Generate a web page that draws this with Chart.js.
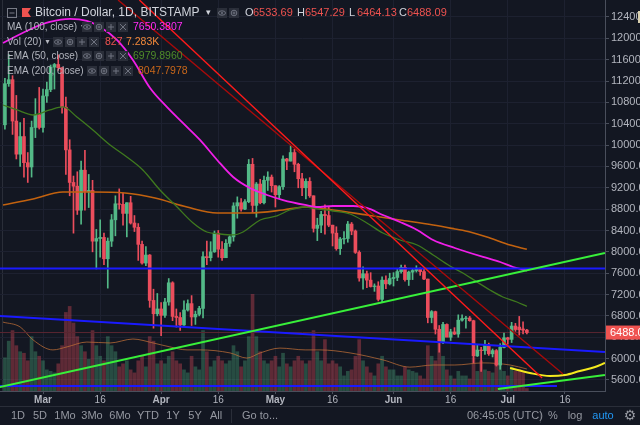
<!DOCTYPE html>
<html>
<head>
<meta charset="utf-8">
<script src="https://cdn.jsdelivr.net/npm/chart.js@4.4.0/dist/chart.umd.min.js"></script>
<style>
  html, body { margin: 0; padding: 0; background: #131722; }
  canvas { display: block; }
</style>
</head>
<body>
<canvas id="btc" width="640" height="425" style="width:640px;height:425px"></canvas>
<script>
// BTC/USD daily candles, Bitstamp. Days are counted from 1 Mar 2018, first candle 19 Feb.
let firstDay = -10;

let opens = [
  10380, 11150, 11225, 10450, 9830, 10160, 9670, 9590, 10330, 10570,
  10330, 10920, 11040, 11460, 11510, 11450, 10710, 9910, 9300, 9230,
  8780, 9530, 9130, 9150, 8200, 8250, 8270, 7870, 8200, 8600,
  8900, 8890, 8720, 8920, 8540, 8460, 8140, 7790, 7940, 7090, 6840,
  6930, 6810, 7060, 7420, 6790, 6770, 6630, 6910, 7030, 6780,
  6830, 6940, 7910, 7890, 8000, 8350, 8050, 7890, 8160, 8280,
  8860, 8920, 8800, 8940, 9640, 8870, 9270, 8920, 9340, 9400,
  9240, 9070, 9220, 9740, 9700, 9860, 9640, 9370, 9200, 9320,
  9050, 8440, 8500, 8700, 8680, 8500, 8350, 8060, 8240, 8250,
  8520, 8390, 7990, 7510, 7590, 7470, 7350, 7360, 7110, 7470, 7400,
  7500, 7520, 7630, 7710, 7480, 7620, 7650, 7690, 7630, 7490,
  6770, 6880, 6550, 6300, 6640, 6400, 6500, 6460, 6720, 6750,
  6760, 6710, 6050, 6160, 6150, 6250, 6090, 6150, 5880, 6210,
  6390, 6360, 6610, 6590, 6555, 6533.69
];
let highs = [
  11250, 11700, 11300, 10930, 10420, 10500, 9860, 10450, 10870, 11080,
  11050, 11180, 11500, 11530, 11690, 11450, 10900, 10100, 9420, 9500,
  9700, 9900, 9450, 9340, 8420, 8600, 8350, 8260, 8700, 9050,
  9180, 9100, 8920, 9040, 8680, 8530, 8200, 8100, 7950, 7300, 7220,
  7050, 7130, 7500, 7440, 6930, 6860, 7080, 7100, 7180, 6890,
  6980, 8000, 8200, 8190, 8390, 8400, 8190, 8230, 8300, 8920,
  9030, 9000, 8980, 9730, 9750, 9300, 9360, 9420, 9500, 9440,
  9240, 9240, 9800, 9750, 9990, 9920, 9660, 9470, 9370, 9390,
  9050, 8630, 8760, 8880, 8840, 8500, 8470, 8270, 8380, 8570,
  8550, 8410, 8020, 7720, 7640, 7610, 7400, 7440, 7530, 7550, 7600,
  7610, 7690, 7750, 7750, 7640, 7680, 7740, 7700, 7690, 7490,
  6900, 6890, 6620, 6680, 6650, 6550, 6580, 6820, 6820, 6790,
  6790, 6720, 6250, 6210, 6340, 6290, 6180, 6170, 6280, 6480,
  6400, 6680, 6660, 6790, 6690, 6547.29
];
let lows = [
  10300, 11100, 10200, 9740, 9600, 9400, 9300, 9400, 10140, 10300,
  10240, 10800, 11000, 11050, 11400, 10600, 9450, 9050, 8350, 8700,
  8520, 8780, 8830, 8000, 7680, 7900, 7760, 7320, 8100, 8300,
  8800, 8500, 8280, 8520, 8380, 7840, 7770, 7740, 6960, 6570, 6800,
  6430, 6770, 7000, 6710, 6590, 6530, 6620, 6890, 6620, 6640,
  6800, 6760, 7760, 7830, 7990, 7900, 7840, 7890, 8100, 8200,
  8630, 8760, 8790, 8920, 8740, 8650, 8900, 8900, 9150, 9120,
  8840, 9000, 9170, 9540, 9700, 9500, 9200, 9050, 8990, 9020,
  8370, 8210, 8360, 8330, 8470, 8110, 8030, 7950, 8150, 8180,
  8320, 7970, 7450, 7300, 7330, 7340, 7260, 7080, 7060, 7310, 7380,
  7360, 7460, 7600, 7450, 7370, 7480, 7620, 7560, 7480, 6670,
  6670, 6460, 6120, 6280, 6420, 6340, 6450, 6400, 6700, 6570,
  6700, 5920, 6040, 5760, 6080, 6060, 6030, 5860, 5800, 6200,
  6270, 6300, 6510, 6440, 6460, 6464.13
];
let closes = [
  11150, 11225, 10450, 9830, 10160, 9670, 9590, 10330, 10570, 10330,
  10920, 11040, 11460, 11510, 11450, 10710, 9910, 9300, 9230, 8780,
  9530, 9130, 9150, 8200, 8250, 8270, 7870, 8200, 8600, 8900,
  8890, 8720, 8920, 8540, 8460, 8140, 7790, 7940, 7090, 6840, 6930,
  6810, 7060, 7420, 6790, 6770, 6630, 6910, 7030, 6780, 6830,
  6940, 7910, 7890, 8000, 8350, 8050, 7890, 8160, 8280, 8860,
  8920, 8800, 8940, 9640, 8870, 9270, 8920, 9340, 9400, 9240,
  9070, 9220, 9740, 9700, 9860, 9640, 9370, 9200, 9320, 9050,
  8440, 8500, 8700, 8680, 8500, 8350, 8060, 8240, 8250, 8520,
  8390, 7990, 7510, 7590, 7470, 7350, 7360, 7110, 7470, 7400, 7500,
  7520, 7630, 7710, 7480, 7620, 7650, 7690, 7630, 7490, 6770,
  6880, 6550, 6300, 6640, 6400, 6500, 6460, 6720, 6750, 6760,
  6710, 6050, 6160, 6150, 6250, 6090, 6150, 5880, 6210, 6390,
  6360, 6610, 6545, 6540, 6533.69, 6488.09
];
// thousand BTC
let volumes = [
  11, 16.5, 20, 15, 13, 12.5, 10, 18, 13, 11.5,
  10, 7, 6.5, 6, 9, 15, 26, 28, 22.5, 18,
  15, 13, 10.5, 20, 15, 11.5, 10, 18, 15, 13,
  8, 9, 10, 7, 6, 10, 11.5, 8, 18, 16.5, 9,
  10, 9, 11.5, 13, 10, 9, 7, 6, 11.5, 8,
  7, 20, 13, 8, 10, 11.5, 10, 9, 10, 15,
  13, 8, 10, 18, 32, 18, 13, 10, 9, 10,
  11.5, 8, 12.5, 9, 8, 10, 11.5, 10, 9, 10,
  20, 13, 10, 17, 9, 10, 9, 8, 5, 6.5,
  7, 11.5, 17, 10, 8, 6, 5, 9, 11.5, 8, 7,
  7, 5, 5, 8, 7, 6.5, 6, 5, 4, 15,
  11.5, 10, 16, 11.5, 7, 5, 4, 6.5, 5, 5,
  4, 11, 6.5, 10, 7, 6.5, 6, 9, 10, 6.5,
  5, 8, 6.5, 7, 6.5, 0.83
];

// indicator lines
let ma100Days = [-10.5, -2.6, 1.8, 7.1, 11.5, 15, 19.4, 23.6, 28.1, 32.5, 36.7, 41.2, 45.7, 49.9, 54.3, 58.8, 63, 68.8, 71.9, 76.1, 81.4, 85, 89.2, 93.7, 98.2, 102.4, 108.1, 115.5, 120, 123.4, 127];
let ma100Values = [11913, 12194, 12306, 12363, 12325, 12213, 11969, 11594, 11070, 10714, 10414, 10096, 9721, 9402, 9196, 9065, 8971, 8878, 8840, 8859, 8859, 8822, 8690, 8559, 8410, 8222, 8072, 7904, 7810, 7716, 7650];

let ema50Days = [-10.5, -6.8, -2.6, 1.8, 5.2, 8.9, 13.1, 17.6, 22, 26.2, 30.7, 35.2, 39.4, 43, 46.5, 49.9, 52.5, 57, 61.4, 64.8, 68.8, 71.9, 76.1, 80.6, 85, 89.2, 93.7, 98.2, 102.4, 106.8, 110.2, 113.9, 117.3, 120.7, 124.4, 127];
let ema50Values = [10751, 10658, 10564, 10658, 10714, 10527, 10283, 10002, 9777, 9534, 9159, 8840, 8541, 8372, 8334, 8316, 8372, 8597, 8672, 8784, 8840, 8803, 8765, 8709, 8541, 8353, 8222, 8128, 7941, 7735, 7604, 7435, 7285, 7154, 7060, 6980];

let ema200Days = [-10.5, -2.6, 5.2, 13.1, 21.5, 29.4, 37.8, 45.7, 54.3, 63, 68.8, 76.1, 85, 93.7, 102.4, 108.1, 112.1, 117.3, 122.6, 127];
let ema200Values = [8878, 8990, 9121, 9121, 9103, 9009, 8840, 8728, 8728, 8784, 8840, 8784, 8690, 8597, 8503, 8428, 8372, 8260, 8128, 8048];

let volMaDays = [-10.5, -6, -2.6, 2.6, 6.3, 11.5, 17.6, 23.6, 28.9, 33.3, 37.8, 41.2, 49.1, 53.5, 57, 62.2, 68.8, 72.7, 80.6, 89.2, 96.3, 102.4, 108.1, 115.5, 122.6, 127];
let volMaValues = [22.8, 21.2, 16.9, 13.6, 14.6, 16.2, 15.9, 17.2, 15.9, 14.6, 13.6, 13.6, 12.6, 10.9, 12.6, 14.2, 13.6, 13.6, 12.6, 10.3, 7.9, 8.6, 8.6, 9.3, 8.6, 7.283];

// hand drawn lines
let greenLongDays = [-11.3, 147.5];
let greenLongPrices = [5468, 7978];
let greenShortDays = [119.4, 147.5];
let greenShortPrices = [5430, 5693];
let blueFlatDays = [-11.3, 147.5];
let blueFlatPrices = [7690, 7690];
let blueSlopeDays = [-11.3, 147.5];
let blueSlopePrices = [6798, 6124];
let blueLowDays = [-11.3, 134.9];
let blueLowPrices = [5487, 5487];
let redDays = [25.3, 131.0];
let redPrices = [12718, 5637];
let darkRedDays = [19.7, 136.5];
let darkRedPrices = [12718, 5712];
let yellowDays = [122.6, 127.8, 133.1, 137, 140.9, 144.9, 147.5];
let yellowPrices = [5824, 5730, 5674, 5693, 5768, 5843, 5920];

// axes
let tickDays = [0, 15, 31, 46, 61, 76, 92, 107, 122, 137];
let tickNames = ["Mar", "16", "Apr", "16", "May", "16", "Jun", "16", "Jul", "16"];
let priceTicks = [5600, 6000, 6400, 6800, 7200, 7600, 8000, 8400, 8800, 9200, 9600, 10000, 10400, 10800, 11200, 11600, 12000, 12400];

let dayMin = -11.29, dayMax = 147.51;
let priceMin = 5393, priceMax = 12718;
let volMax = 129.4;

// ---------------------------------------------------------------

let upColor = "#53b987";
let downColor = "#eb4d5c";
let gridColor = "#1d2130";
let axisColor = "#4a4f5c";
let textColor = "#b2b5be";

function pts(xs, ys) {
  return xs.map(function (x, i) { return { x: x, y: ys[i] }; });
}
function isUp(i) {
  return closes[i] >= opens[i];
}

let candleWicks = opens.map(function (o, i) { return { x: firstDay + i, y: [lows[i], highs[i]] }; });
let candleBodies = opens.map(function (o, i) { return { x: firstDay + i, y: [o, closes[i]] }; });
let volumeBars = volumes.map(function (v, i) { return { x: firstDay + i, y: v }; });
let lastClose = closes[closes.length - 1];

function lineSet(data, color, width, order, smooth) {
  return {
    type: "line",
    data: data,
    borderColor: color,
    borderWidth: width,
    pointRadius: 0,
    fill: false,
    order: order,
    cubicInterpolationMode: smooth ? "monotone" : "default",
    tension: 0,
  };
}

Chart.defaults.font.family = '"Liberation Sans", Arial, sans-serif';

function drawIconBox(c, x, y, kind) {
  c.fillStyle = "#2a2e39";
  c.fillRect(x, y - 5, 10, 10);
  c.strokeStyle = "#6f7380";
  c.lineWidth = 1;
  c.beginPath();
  let cx = x + 5, cy = y;
  if (kind === "eye") {
    c.ellipse(cx, cy, 3.5, 2.2, 0, 0, Math.PI * 2);
    c.stroke();
    c.beginPath();
    c.arc(cx, cy, 1, 0, Math.PI * 2);
    c.fillStyle = "#6f7380";
    c.fill();
  } else if (kind === "gear") {
    c.arc(cx, cy, 2.8, 0, Math.PI * 2);
    c.stroke();
    c.beginPath();
    c.arc(cx, cy, 1, 0, Math.PI * 2);
    c.stroke();
  } else if (kind === "plus") {
    c.moveTo(cx - 3, cy); c.lineTo(cx + 3, cy);
    c.moveTo(cx, cy - 3); c.lineTo(cx, cy + 3);
    c.stroke();
  } else {
    c.moveTo(cx - 3, cy - 3); c.lineTo(cx + 3, cy + 3);
    c.moveTo(cx + 3, cy - 3); c.lineTo(cx - 3, cy + 3);
    c.stroke();
  }
}

let overlayPlugin = {
  id: "overlay",
  beforeDraw(chart) {
    let c = chart.ctx;
    c.save();
    c.fillStyle = "#131722";
    c.fillRect(0, 0, chart.width, chart.height);
    c.strokeStyle = "#2a2e39";
    c.beginPath(); c.moveTo(2.5, 0); c.lineTo(2.5, 391); c.stroke();
    c.restore();
  },
  afterDraw(chart) {
    let c = chart.ctx;
    let yScale = chart.scales.y;
    c.save();
    c.textBaseline = "middle";
    c.textAlign = "left";

    // last price tag on the axis
    let py = yScale.getPixelForValue(lastClose);
    c.fillStyle = "#ef5350";
    c.fillRect(606, py - 7, 34, 14);
    c.fillStyle = "#ffffff";
    c.font = '11px "Liberation Sans", Arial';
    c.fillText(lastClose.toFixed(2), 610, py + 0.5);
    c.fillStyle = "#d8cfae";
    c.fillRect(638, 11, 2, 12);

    // header row
    c.strokeStyle = "#787b86";
    c.lineWidth = 1;
    c.strokeRect(7.5, 8.5, 9, 9);
    c.beginPath(); c.moveTo(9.5, 13); c.lineTo(14.5, 13); c.stroke();
    c.fillStyle = "#ef5350";
    c.beginPath();
    c.moveTo(22, 8); c.lineTo(31, 8); c.lineTo(28, 12.5); c.lineTo(31, 17); c.lineTo(22, 17);
    c.closePath(); c.fill();
    c.fillStyle = "#d1d4dc";
    c.font = '12px "Liberation Sans", Arial';
    c.fillText("Bitcoin / Dollar, 1D, BITSTAMP", 35, 13);
    c.font = '9px "DejaVu Sans"';
    c.fillText("\u25BE", 206, 13);
    drawIconBox(c, 217, 13, "eye");
    drawIconBox(c, 229, 13, "gear");
    let ohlc = [["O", 245, "6533.69"], ["H", 297, "6547.29"], ["L", 349, "6464.13"], ["C", 399, "6488.09"]];
    c.font = '11px "Liberation Sans", Arial';
    ohlc.forEach(function (o) {
      c.fillStyle = "#d1d4dc";
      c.fillText(o[0], o[1], 13);
      c.fillStyle = "#ef5350";
      c.fillText(o[2], o[1] + 8, 13);
    });

    // indicator legend rows
    let rows = [
      { y: 27, name: "MA (100, close)", icons: 82, vals: [["7650.3807", 133, "#ff2cf5"]] },
      { y: 42, name: "Vol (20)", icons: 53, vals: [["827", 105, "#ef5350"], ["7.283K", 126, "#f0883a"]] },
      { y: 56, name: "EMA (50, close)", icons: 82, vals: [["6979.8960", 133, "#4f8c2a"]] },
      { y: 71, name: "EMA (200, close)", icons: 87, vals: [["8047.7978", 138, "#c8671b"]] },
    ];
    rows.forEach(function (r) {
      c.font = '10px "Liberation Sans", Arial';
      c.fillStyle = textColor;
      c.fillText(r.name, 7, r.y);
      let w = c.measureText(r.name).width;
      c.font = '8px "DejaVu Sans"';
      c.fillText("\u25BE", 7 + w + 4, r.y);
      ["eye", "gear", "plus", "x"].forEach(function (k, j) {
        drawIconBox(c, r.icons + j * 12, r.y, k);
      });
      c.font = '10.5px "Liberation Sans", Arial';
      r.vals.forEach(function (v) {
        c.fillStyle = v[2];
        c.fillText(v[0], v[1], r.y);
      });
    });

    // bottom toolbar
    c.strokeStyle = "#2a2e39";
    c.beginPath(); c.moveTo(0, 406.5); c.lineTo(640, 406.5); c.stroke();
    c.beginPath();
    c.moveTo(231.5, 409); c.lineTo(231.5, 423);
    c.moveTo(540.5, 409); c.lineTo(540.5, 423);
    c.stroke();
    c.font = '11px "Liberation Sans", Arial';
    c.textAlign = "center";
    c.fillStyle = "#9598a1";
    [["1D", 18], ["5D", 40], ["1Mo", 65], ["3Mo", 92], ["6Mo", 120], ["YTD", 148], ["1Y", 173], ["5Y", 195], ["All", 216], ["%", 553], ["log", 575]].forEach(function (t) {
      c.fillText(t[0], t[1], 416);
    });
    c.textAlign = "left";
    c.fillText("Go to...", 242, 416);
    c.fillText("06:45:05 (UTC)", 467, 416);
    c.fillStyle = "#2196f3";
    c.textAlign = "center";
    c.fillText("auto", 603, 416);
    c.fillStyle = "#9598a1";
    c.font = '14px "DejaVu Sans"';
    c.fillText("\u2699", 630, 416);
    c.restore();
  },
};

try {
  let ctx = document.getElementById("btc").getContext("2d");

  new Chart(ctx, {
    type: "bar",
    data: {
      datasets: [
        lineSet(pts(redDays, redPrices), "#ff1a1a", 1.4, 1, false),
        lineSet(pts(darkRedDays, darkRedPrices), "#a80a0a", 1.4, 1, false),
        lineSet(pts(greenLongDays, greenLongPrices), "#38f03a", 2, 1, false),
        lineSet(pts(greenShortDays, greenShortPrices), "#38f03a", 2, 1, false),
        lineSet(pts(blueFlatDays, blueFlatPrices), "#1a1aff", 2, 1, false),
        lineSet(pts(blueSlopeDays, blueSlopePrices), "#1a1aff", 2, 1, false),
        lineSet(pts(blueLowDays, blueLowPrices), "#1a1aff", 2, 1, false),
        lineSet(pts(yellowDays, yellowPrices), "#f5ea1e", 2, 1, true),
        lineSet(pts(ma100Days, ma100Values), "#f01ee8", 1.8, 2, true),
        lineSet(pts(ema50Days, ema50Values), "#3f7a1e", 1.3, 2, true),
        lineSet(pts(ema200Days, ema200Values), "#c2620f", 1.6, 2, true),
        {
          label: "bodies",
          data: candleBodies,
          backgroundColor: function (c) { return isUp(c.dataIndex) ? upColor : downColor; },
          barThickness: 3,
          grouped: false,
          order: 3,
        },
        {
          label: "wicks",
          data: candleWicks,
          backgroundColor: function (c) { return isUp(c.dataIndex) ? upColor : downColor; },
          barThickness: 1,
          grouped: false,
          order: 4,
        },
        lineSet(pts([dayMin, dayMax], [lastClose, lastClose]), "#5a2631", 1, 5, false),
        Object.assign(lineSet(pts(volMaDays, volMaValues), "rgba(190,110,55,0.75)", 1, 6, true), { yAxisID: "yv" }),
        {
          label: "volume",
          data: volumeBars,
          yAxisID: "yv",
          backgroundColor: function (c) { return isUp(c.dataIndex) ? "rgba(83,185,135,0.33)" : "rgba(235,77,92,0.35)"; },
          barThickness: 3,
          grouped: false,
          order: 7,
        },
      ],
    },
    options: {
      responsive: false,
      animation: false,
      devicePixelRatio: 1,
      layout: { padding: { left: 0, right: 0, top: 0, bottom: 20 } },
      plugins: { legend: { display: false }, tooltip: { enabled: false } },
      scales: {
        x: {
          type: "linear",
          min: dayMin,
          max: dayMax,
          offset: false,
          grid: { offset: false, color: gridColor, tickColor: axisColor, tickLength: 3 },
          border: { display: true, color: axisColor },
          afterBuildTicks: function (a) { a.ticks = tickDays.map(function (v) { return { value: v }; }); },
          afterFit: function (a) { a.height = 14; a.paddingLeft = 0; a.paddingRight = 0; },
          ticks: {
            autoSkip: false,
            maxRotation: 0,
            padding: 0,
            color: textColor,
            font: function (c) { return { size: 10, weight: tickNames[c.index] && tickNames[c.index].length > 2 ? "bold" : "normal" }; },
            callback: function (v, i) { return tickNames[i]; },
          },
        },
        y: {
          position: "right",
          min: priceMin,
          max: priceMax,
          grid: { color: gridColor, tickColor: axisColor, tickLength: 4 },
          border: { display: true, color: axisColor },
          afterBuildTicks: function (a) { a.ticks = priceTicks.map(function (v) { return { value: v }; }); },
          afterFit: function (a) { a.width = 35; a.paddingTop = 0; a.paddingBottom = 0; },
          ticks: {
            padding: 2,
            color: textColor,
            font: { size: 11 },
            callback: function (v) { return v.toFixed(2); },
          },
        },
        yv: {
          display: false,
          min: 0,
          max: volMax,
        },
      },
    },
    plugins: [overlayPlugin],
  });
} catch (error) {
  console.log("while creating the chart:", error);
}
</script>
</body>
</html>
